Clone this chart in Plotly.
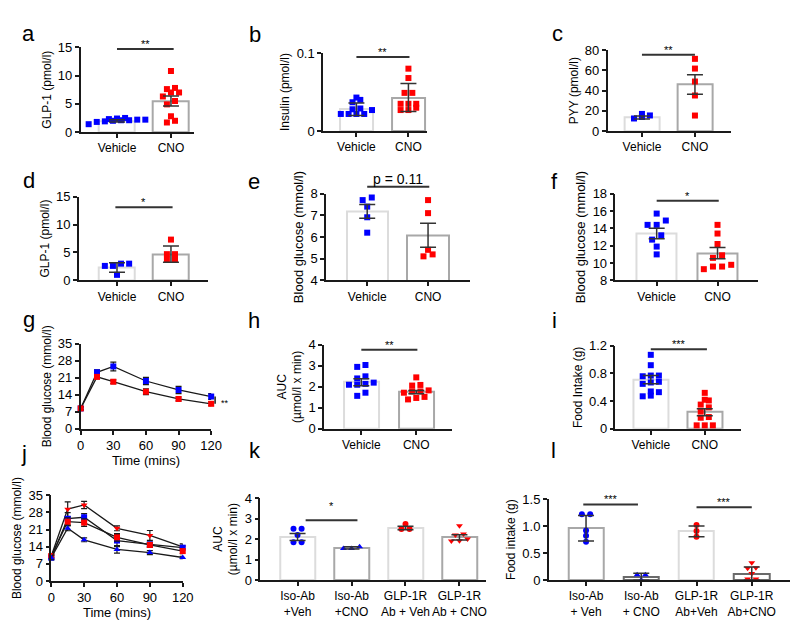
import plotly.graph_objects as go

W, H = 800, 623
BLUE, RED, INK = "#0000ff", "#ff0000", "#1a1a1a"
LIGHT, MID, DARK = "#dcdcdc", "#a8a8a8", "#6a6a6a"
FONT = "Liberation Sans, Arial, sans-serif"

# ---- values ----
veh_cno = ["Vehicle", "CNO"]
k_groups = ["Iso-Ab<br>+Veh", "Iso-Ab<br>+CNO", "GLP-1R<br>Ab + Veh", "GLP-1R<br>Ab + CNO"]
l_groups = ["Iso-Ab<br>+ Veh", "Iso-Ab<br>+ CNO", "GLP-1R<br>Ab+Veh", "GLP-1R<br>Ab+CNO"]

a_mean = [2.0, 5.5]
a_err = [0.2, 0.9]
a_veh = [2.4, 2.3, 2.2, 2.5, 2.1, 1.4, 1.9, 2.0, 2.1, 2.2, 1.8]
a_cno = [10.8, 7.8, 7.6, 7.0, 7.0, 6.3, 5.5, 4.9, 2.8, 2.0, 1.7]

b_mean = [0.028, 0.043]
b_err = [0.008, 0.018]
b_veh = [0.043, 0.040, 0.037, 0.029, 0.028, 0.027, 0.022, 0.022, 0.022, 0.022]
b_cno = [0.080, 0.068, 0.049, 0.049, 0.035, 0.035, 0.035, 0.030, 0.027, 0.027]

c_mean = [13.5, 46.0]
c_err = [1.5, 9.6]
c_veh = [17.0, 15.5, 14.0, 12.5]
c_cno = [71.4, 61.8, 49.0, 35.2, 15.4]

d_mean = [2.3, 4.7]
d_err = [0.85, 1.45]
d_veh = [3.0, 2.6, 2.6, 3.0, 1.0]
d_cno = [7.3, 4.7, 4.7, 3.75, 3.75]

e_mean = [7.18, 6.08]
e_err = [0.32, 0.55]
e_veh = [7.82, 7.70, 7.40, 6.91, 6.20]
e_cno = [7.70, 7.10, 5.41, 5.20, 5.11]

f_mean = [13.4, 11.15]
f_err = [0.6, 0.65]
f_veh = [15.7, 14.9, 14.4, 14.4, 13.2, 12.7, 11.9, 11.0]
f_cno = [14.4, 13.4, 12.2, 10.9, 10.6, 9.8, 9.6, 9.6, 9.3]

time_min = [0, 15, 30, 60, 90, 120]
g_veh = [8.4, 23.3, 25.7, 19.7, 16.0, 13.3]
g_veh_err = [0.6, 1.0, 1.8, 1.5, 1.5, 1.2]
g_cno = [8.4, 21.4, 19.4, 15.3, 12.3, 10.3]
g_cno_err = [0.6, 0.7, 0.8, 1.2, 0.8, 0.8]

h_mean = [2.22, 1.75]
h_err = [0.17, 0.08]
h_veh = [3.04, 2.95, 2.5, 2.4, 2.2, 2.14, 2.1, 2.1, 1.72, 1.57]
h_cno = [2.45, 2.09, 2.06, 1.83, 1.78, 1.78, 1.72, 1.52, 1.47, 1.40]

i_mean = [0.71, 0.24]
i_err = [0.06, 0.05]
i_veh = [1.07, 0.92, 0.77, 0.77, 0.76, 0.68, 0.67, 0.65, 0.54, 0.53, 0.48, 0.47]
i_cno = [0.52, 0.42, 0.41, 0.35, 0.31, 0.25, 0.17, 0.16, 0.05, 0.05, 0.05]

j_iso_veh = [9.5, 25.4, 26.0, 16.5, 14.9, 13.6]
j_iso_veh_err = [0.8, 2.5, 1.5, 2.5, 1.0, 1.0]
j_iso_cno = [9.5, 21.5, 16.8, 12.9, 11.6, 9.6]
j_iso_cno_err = [0.8, 1.0, 0.8, 1.5, 0.8, 0.5]
j_glp_veh = [10.2, 24.2, 23.8, 17.8, 14.7, 12.2]
j_glp_veh_err = [0.8, 1.5, 1.5, 1.5, 1.0, 1.0]
j_glp_cno = [10.2, 29.3, 31.0, 21.5, 18.6, 13.9]
j_glp_cno_err = [0.8, 3.0, 1.5, 1.0, 2.0, 1.3]

k_mean = [2.1, 1.57, 2.54, 2.08]
k_err = [0.17, 0.06, 0.09, 0.13]
k_pts = [[2.5, 2.5, 2.2, 1.85, 1.85],
         [1.54, 1.62, 1.54],
         [2.49, 2.73, 2.49],
         [2.65, 2.25, 2.2, 2.0, 1.92, 1.9]]

l_mean = [0.96, 0.06, 0.90, 0.12]
l_err = [0.235, 0.065, 0.10, 0.12]
l_pts = [[1.22, 1.22, 0.92, 0.82, 0.71],
         [0.10, 0.10, 0.0],
         [1.02, 0.91, 0.80],
         [0.32, 0.23, 0.22, 0.12, 0.02, 0.02]]

# ---- panel geometry (pixels: left, right, top, bottom) ----
PANELS = {
    "a": dict(n=1, box=(70, 185, 33, 120), c0=107, s=55, bw=37),
    "b": dict(n=2, box=(317, 423, 39, 119), c0=351, s=53, bw=34),
    "c": dict(n=3, box=(607, 733, 36, 119), c0=642, s=54, bw=36),
    "d": dict(n=4, box=(68, 200, 186, 272), c0=107, s=55, bw=37),
    "e": dict(n=5, box=(320, 467, 183, 272), c0=362, s=62, bw=42),
    "f": dict(n=6, box=(615, 760, 183, 272), c0=657, s=62, bw=41),
    "g": dict(n=7, box=(70, 203, 337, 424)),
    "h": dict(n=8, box=(318, 448, 338, 424), c0=356, s=56, bw=36),
    "i": dict(n=9, box=(615, 743, 339, 424), c0=651, s=55, bw=36),
    "j": dict(n=10, box=(40, 174, 492, 580)),
    "k": dict(n=11, box=(253, 483, 495, 579), c0=291, s=55, bw=36),
    "l": dict(n=12, box=(547, 793, 496, 579), c0=585, s=56.3, bw=36),
}
LETTERS = {"a": (17, 19), "b": (248, 20), "c": (556, 19), "d": (17, 170), "e": (247, 171),
           "f": (553, 171), "g": (17, 312), "h": (247, 313), "i": (553, 313),
           "j": (12, 449), "k": (248, 446), "l": (552, 446)}

AX = dict(showline=True, linecolor=INK, linewidth=1.5, ticks="outside", ticklen=4,
          tickwidth=1.5, tickcolor=INK, showgrid=False, zeroline=False,
          tickfont=dict(family=FONT, size=13, color="black"))

fig = go.Figure()
layout = {}
shapes, notes = [], []


def ids(p):
    n = PANELS[p]["n"]
    sfx = "" if n == 1 else str(n)
    return "x" + sfx, "y" + sfx, "xaxis" + sfx, "yaxis" + sfx


def spread(vals, tol, step):
    order = sorted(range(len(vals)), key=lambda i: vals[i])
    offs = [0.0] * len(vals)
    groups, cur = [], []
    for i in order:
        if cur and vals[i] - vals[cur[0]] > tol:
            groups.append(cur)
            cur = []
        cur.append(i)
    groups.append(cur)
    for g in groups:
        for k, i in enumerate(g):
            offs[i] = (k - (len(g) - 1) / 2) * step
    return offs


def axes(p, yrange, ytitle, xkw, ykw, title_size=12):
    xr, yr, xa, ya = ids(p)
    L, R, T, B = PANELS[p]["box"]
    layout[xa] = dict(AX, domain=[L / W, R / W], anchor=yr, tickangle=0, **xkw)
    layout[ya] = dict(AX, domain=[1 - B / H, 1 - T / H], anchor=xr, range=yrange,
                      title=dict(text=ytitle, font=dict(family=FONT, size=title_size, color="black"),
                                 standoff=4), **ykw)


def bar_panel(p, cats, means, errs, pts, colors, symbols, outlines, yrange, ytitle,
              ykw, title_size=12):
    xr, yr, _, _ = ids(p)
    P = PANELS[p]
    L, R = P["box"][:2]
    s = P["s"]
    xs = list(range(len(cats)))
    fig.add_trace(go.Bar(x=xs, y=means, width=P["bw"] / s, xaxis=xr, yaxis=yr,
                         marker=dict(color="white", line=dict(color=outlines, width=2))))
    tol = 0.055 * (yrange[1] - yrange[0])
    for k, vals in enumerate(pts):
        offs = spread(vals, tol, 0.15)
        fig.add_trace(go.Scatter(x=[k + o for o in offs], y=vals, mode="markers",
                                 xaxis=xr, yaxis=yr, cliponaxis=False,
                                 marker=dict(color=colors[k], symbol=symbols[k], size=6)))
    fig.add_trace(go.Scatter(x=xs, y=means, mode="markers", xaxis=xr, yaxis=yr,
                             marker=dict(size=2, color="rgba(0,0,0,0)"),
                             error_y=dict(type="data", array=errs, color="#333333",
                                          thickness=1.5, width=8)))
    xkw = dict(range=[(L - P["c0"]) / s, (R - P["c0"]) / s], tickvals=xs, ticktext=cats,
               tickfont=dict(family=FONT, size=12, color="black"))
    axes(p, yrange, ytitle, xkw, ykw, title_size)


def sig(p, x0, x1, y, text, size=11, shift=-3, ydomain=False):
    xr, yr, _, _ = ids(p)
    yref = yr + " domain" if ydomain else yr
    shapes.append(dict(type="line", xref=xr, yref=yref, x0=x0, x1=x1, y0=y, y1=y,
                       line=dict(color="#333333", width=2)))
    notes.append(dict(xref=xr, yref=yref, x=(x0 + x1) / 2, y=y, text=text, showarrow=False,
                      yanchor="bottom", yshift=shift, font=dict(family=FONT, size=size, color="black")))


def line_panel(p, series, ytitle):
    xr, yr, _, _ = ids(p)
    for vals, errs, color, sym in series:
        fig.add_trace(go.Scatter(x=time_min, y=vals, mode="lines+markers", xaxis=xr, yaxis=yr,
                                 cliponaxis=False, line=dict(color=INK, width=1.3),
                                 marker=dict(color=color, symbol=sym, size=6),
                                 error_y=dict(type="data", array=errs, color=INK,
                                              thickness=1.2, width=3)))
    xkw = dict(range=[0, 120], tickvals=[0, 30, 60, 90, 120],
               title=dict(text="Time (mins)", font=dict(family=FONT, size=13, color="black"),
                          standoff=2))
    axes(p, [0, 35], ytitle, xkw, dict(tickvals=[0, 7, 14, 21, 28, 35]))


two_sq = ["square", "square"]
veh_out = [LIGHT, MID]

bar_panel("a", veh_cno, a_mean, a_err, [a_veh, a_cno], [BLUE, RED], two_sq, veh_out,
          [0, 15], "GLP-1 (pmol/l)", dict(tickvals=[0, 5, 10, 15]))
sig("a", 0, 1.05, 14.7, "**")

bar_panel("b", veh_cno, b_mean, b_err, [b_veh, b_cno], [BLUE, RED], two_sq, veh_out,
          [0, 0.1], "Insulin (pmol/l)", dict(tickvals=[0, 0.1], ticktext=["0", "0.1"]))
sig("b", 0, 1.02, 0.095, "**")

bar_panel("c", veh_cno, c_mean, c_err, [c_veh, c_cno], [BLUE, RED], two_sq, veh_out,
          [0, 80], "PYY (pmol/l)", dict(tickvals=[0, 20, 40, 60, 80]))
sig("c", 0, 1.0, 75.5, "**")

bar_panel("d", veh_cno, d_mean, d_err, [d_veh, d_cno], [BLUE, RED], two_sq, veh_out,
          [0, 15], "GLP-1 (pmol/l)", dict(tickvals=[0, 5, 10, 15]))
sig("d", -0.03, 1.03, 13.1, "*")

bar_panel("e", veh_cno, e_mean, e_err, [e_veh, e_cno], [BLUE, RED], two_sq, veh_out,
          [4, 8], "Blood glucose (mmol/l)", dict(tickvals=[4, 5, 6, 7, 8]), title_size=13)
sig("e", 0, 1.02, 1.08, "p = 0.11", size=14, shift=-2, ydomain=True)

bar_panel("f", veh_cno, f_mean, f_err, [f_veh, f_cno], [BLUE, RED], two_sq, veh_out,
          [8, 18], "Blood glucose (mmol/l)", dict(tickvals=[8, 10, 12, 14, 16, 18]),
          title_size=13)
sig("f", 0, 1.02, 17.17, "*")

line_panel("g", [(g_veh, g_veh_err, BLUE, "square"), (g_cno, g_cno_err, RED, "square")],
           "Blood glucose (mmol/l)")
shapes.append(dict(type="line", xref="x7 domain", yref="y7", x0=1.03, x1=1.03,
                   y0=g_cno[-1], y1=g_veh[-1], line=dict(color=INK, width=1.5)))
notes.append(dict(xref="x7 domain", yref="y7", x=1.06, y=(g_cno[-1] + g_veh[-1]) / 2,
                  text="**", showarrow=False, xanchor="left", yshift=-3,
                  font=dict(family=FONT, size=9, color="black")))

bar_panel("h", veh_cno, h_mean, h_err, [h_veh, h_cno], [BLUE, RED], two_sq, veh_out,
          [0, 4], "AUC<br>(µmol/l x min)", dict(tickvals=[0, 1, 2, 3, 4]))
sig("h", 0, 1.02, 3.77, "**")

bar_panel("i", veh_cno, i_mean, i_err, [i_veh, i_cno], [BLUE, RED], two_sq, veh_out,
          [0, 1.2], "Food Intake (g)",
          dict(tickvals=[0, 0.4, 0.8, 1.2], ticktext=["0", "0.4", "0.8", "1.2"]))
sig("i", 0, 1.04, 1.15, "***")

line_panel("j", [(j_glp_cno, j_glp_cno_err, RED, "triangle-down"),
                 (j_iso_veh, j_iso_veh_err, BLUE, "square"),
                 (j_glp_veh, j_glp_veh_err, RED, "square"),
                 (j_iso_cno, j_iso_cno_err, BLUE, "triangle-up")],
           "Blood glucose (mmol/l)")

bar_panel("k", k_groups, k_mean, k_err, k_pts, [BLUE, BLUE, RED, RED],
          ["circle", "triangle-up", "circle", "triangle-down"], [LIGHT, MID, LIGHT, MID],
          [0, 4], "AUC<br>(µmol/l x min)", dict(tickvals=[0, 1, 2, 3, 4]))
sig("k", 0.15, 1.11, 2.92, "*", shift=6)

bar_panel("l", l_groups, l_mean, l_err, l_pts, [BLUE, BLUE, RED, RED],
          ["circle", "triangle-up", "circle", "triangle-down"], [MID, DARK, LIGHT, DARK],
          [0, 1.5], "Food intake (g)",
          dict(tickvals=[0, 0.5, 1.0, 1.5], ticktext=["0", "0.5", "1.0", "1.5"]))
sig("l", -0.05, 0.94, 1.40, "***")
sig("l", 2.0, 3.0, 1.35, "***")

for letter, (px, py) in LETTERS.items():
    notes.append(dict(xref="paper", yref="paper", x=px / W, y=1 - py / H, text=letter,
                      showarrow=False, xanchor="center", yanchor="middle",
                      font=dict(family=FONT, size=22, color="black")))

fig.update_layout(width=W, height=H, margin=dict(l=0, r=0, t=0, b=0), showlegend=False,
                  paper_bgcolor="white", plot_bgcolor="white", bargap=0,
                  font=dict(family=FONT, color="black"),
                  shapes=shapes, annotations=notes, **layout)
fig.write_html("out.html")
